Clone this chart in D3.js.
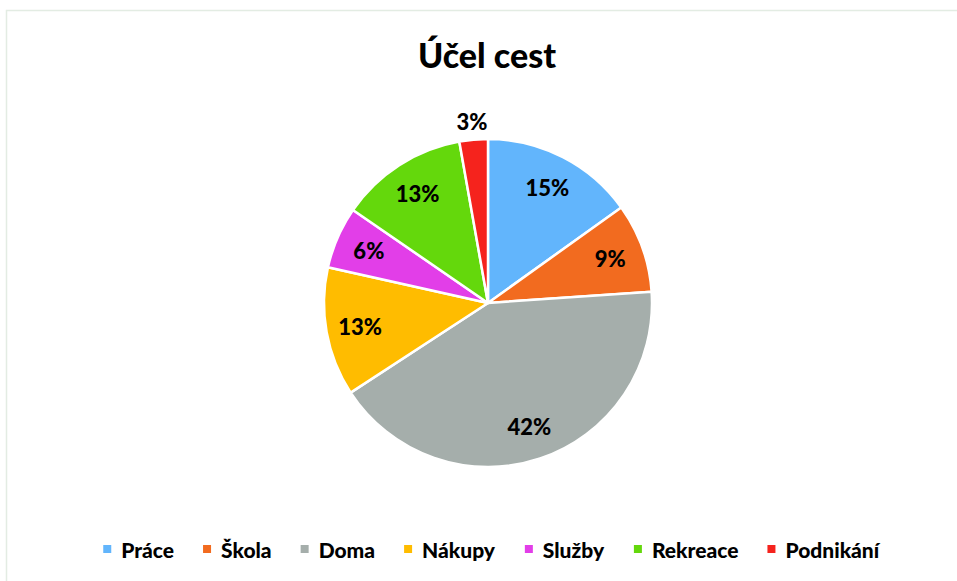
<!DOCTYPE html>
<html>
<head>
<meta charset="utf-8">
<style>
  body { margin: 0; background: #fff; }
  svg { font-family: Lato, "Open Sans", sans-serif; font-weight: 900; }
  .slice { stroke: #fff; stroke-width: 2.5px; stroke-linejoin: round; }
  .lbl { font-size: 22px; fill: #000; text-anchor: middle; dominant-baseline: central; }
  .leg text { font-size: 21px; fill: #000; dominant-baseline: central; }
</style>
</head>
<body>
<svg width="957" height="581"></svg>
<script src="https://d3js.org/d3.v7.min.js"></script>
<script>
var categories = ["Práce", "Škola", "Doma", "Nákupy", "Služby", "Rekreace", "Podnikání"];
var values = [15.1, 8.8, 41.9, 12.7, 6.1, 12.6, 2.8];
var colors = ["#62b5fc", "#f26b1f", "#a5aeab", "#ffbc00", "#e23ee8", "#64d80c", "#f5231d"];

var svg = d3.select("svg");
var cx = 488, cy = 303, r = 164;

// frame
svg.append("path")
    .attr("d", "M6.5,581 L6.5,10.5 L957,10.5")
    .attr("fill", "none")
    .attr("stroke", "#e3ece3")
    .attr("stroke-width", 1.5);

svg.append("text")
    .attr("x", 487).attr("y", 68)
    .attr("text-anchor", "middle")
    .style("font-size", "34px")
    .text("Účel cest");

var data = categories.map(function(c, i) { return { name: c, value: values[i], color: colors[i] }; });
var total = d3.sum(values);

var pie = d3.pie().sort(null).value(function(d) { return d.value; });
var arc = d3.arc().innerRadius(0).outerRadius(r);
var labelArc = d3.arc().innerRadius(130).outerRadius(130);
var outArc = d3.arc().innerRadius(182).outerRadius(182);

var g = svg.append("g").attr("transform", "translate(" + cx + "," + cy + ")");
var arcs = pie(data);

g.selectAll(".slice")
    .data(arcs)
  .enter().append("path")
    .attr("class", "slice")
    .attr("fill", function(d) { return d.data.color; })
    .attr("d", arc);

g.selectAll(".lbl")
    .data(arcs)
  .enter().append("text")
    .attr("class", "lbl")
    .attr("transform", function(d) {
      var p = (d.data.value / total < 0.05 ? outArc : labelArc).centroid(d);
      return "translate(" + p + ")";
    })
    .text(function(d) { return Math.round(d.data.value / total * 100) + "%"; });

// legend
var leg = svg.append("g").attr("class", "leg");
var items = leg.selectAll("g").data(data).enter().append("g");
items.append("rect").attr("width", 8).attr("height", 8).attr("y", -4)
    .attr("fill", function(d) { return d.color; });
items.append("text").attr("x", 18).text(function(d) { return d.name; });

var gap = 29;
var x = 0;
items.each(function() {
  var w = this.getBBox().width;
  d3.select(this).attr("transform", "translate(" + x + ",0)");
  x += w + gap;
});
var legW = x - gap;
leg.attr("transform", "translate(" + (492 - legW / 2) + ",549)");
</script>
</body>
</html>
